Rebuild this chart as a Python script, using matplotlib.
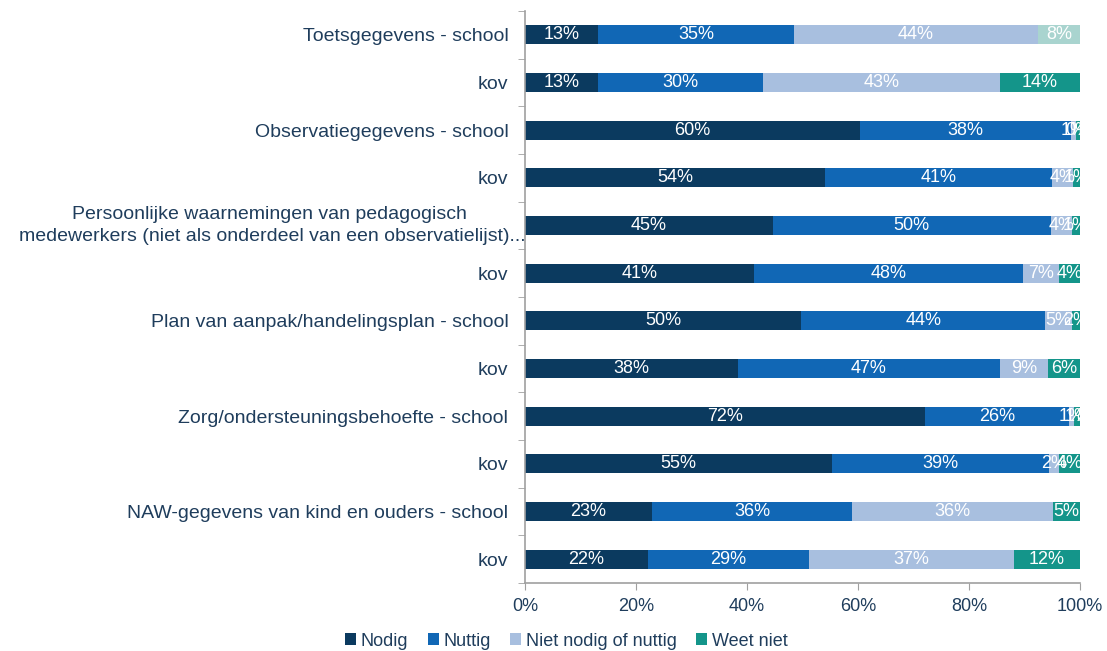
import matplotlib
matplotlib.use("Agg")
import matplotlib.pyplot as plt
from matplotlib.patches import Patch
import matplotlib.transforms as mtransforms
import numpy as np

plt.rcParams['font.family'] = ['Liberation Sans', 'DejaVu Sans']

categories = [
    "Toetsgegevens - school",
    "kov",
    "Observatiegegevens - school",
    "kov",
    "Persoonlijke waarnemingen van pedagogisch \nmedewerkers (niet als onderdeel van een observatielijst)...",
    "kov",
    "Plan van aanpak/handelingsplan - school",
    "kov",
    "Zorg/ondersteuningsbehoefte - school",
    "kov",
    "NAW-gegevens van kind en ouders - school",
    "kov",
]
series_names = ["Nodig", "Nuttig", "Niet nodig of nuttig", "Weet niet"]
nodig = [13.2, 13.2, 60.4, 54.1, 44.6, 41.3, 49.8, 38.3, 72.1, 55.3, 22.9, 22.2]
nuttig = [35.2, 29.7, 37.9, 40.8, 50.1, 48.4, 43.9, 47.3, 25.9, 39.2, 36.0, 29.0]
niet = [44.0, 42.7, 1.0, 3.8, 3.8, 6.6, 4.9, 8.7, 1.0, 1.8, 36.2, 36.9]
weet = [7.6, 14.4, 0.7, 1.3, 1.5, 3.7, 1.4, 5.7, 1.0, 3.7, 4.9, 11.9]
labels = [
    ["13%", "35%", "44%", "8%"],
    ["13%", "30%", "43%", "14%"],
    ["60%", "38%", "1%", "0%"],
    ["54%", "41%", "4%", "1%"],
    ["45%", "50%", "4%", "1%"],
    ["41%", "48%", "7%", "4%"],
    ["50%", "44%", "5%", "2%"],
    ["38%", "47%", "9%", "6%"],
    ["72%", "26%", "1%", "1%"],
    ["55%", "39%", "2%", "4%"],
    ["23%", "36%", "36%", "5%"],
    ["22%", "29%", "37%", "12%"],
]
xticks = [0, 20, 40, 60, 80, 100]
xticklabels = ["0%", "20%", "40%", "60%", "80%", "100%"]

colors = ["#0b3a5f", "#1167b5", "#a8bfdf", "#14958a"]
text_color = "#1f3d5c"

fig = plt.figure(figsize=(11.07, 6.51), dpi=100)
ax = fig.add_axes([525/1107, 1 - 583/651, 555/1107, (583-11)/651])

data = [nodig, nuttig, niet, weet]
y = np.arange(len(categories))
left = np.zeros(len(categories))
for si, vals in enumerate(data):
    vals = np.array(vals)
    cols = [colors[si]] * len(vals)
    if si == 3:
        cols[0] = "#a9d4cf"
    ax.barh(y, vals, left=left, height=0.4, color=cols, linewidth=0)
    for i, v in enumerate(vals):
        ax.text(left[i] + v / 2, y[i], labels[i][si], ha="center", va="center",
                color="white", fontsize=13)
    left = left + vals

ax.set_ylim(len(categories) - 0.5, -0.5)
ax.set_xlim(0, 100)
ax.set_yticks(y)
long_idx = 4
ax.set_yticklabels(["" if i == long_idx else c for i, c in enumerate(categories)],
                   fontsize=14, color=text_color)
for t in ax.get_yticklabels():
    t.set_ha("right")
# long two-line label, centred and overlapping the axis as in the original
trans = mtransforms.blended_transform_factory(fig.transFigure, ax.transData)
ax.text(272/1107, y[long_idx], categories[long_idx], transform=trans, ha="center", va="center",
        multialignment="center", fontsize=14, color=text_color, clip_on=False,
        linespacing=1.45)

ax.set_yticks(np.arange(-0.5, len(categories) + 0.5, 1), minor=True)
ax.tick_params(axis="y", which="major", length=0, pad=12)
ax.tick_params(axis="y", which="minor", length=5, color="#a0a0a0", direction="out")
ax.set_xticks(xticks)
ax.set_xticklabels(xticklabels, fontsize=13, color=text_color)
ax.tick_params(axis="x", length=5, color="#a0a0a0", direction="out", pad=6)
for s in ["top", "right"]:
    ax.spines[s].set_visible(False)
for s in ["left", "bottom"]:
    ax.spines[s].set_color("#a0a0a0")
    ax.spines[s].set_linewidth(1.2)

handles = [Patch(facecolor=c, edgecolor="none", label=n) for c, n in zip(colors, series_names)]
leg = fig.legend(handles=handles, loc="center left", bbox_to_anchor=(345/1107, 1 - 641/651), ncol=4,
                 frameon=False, fontsize=13, handlelength=0.6, handleheight=0.6,
                 handletextpad=0.25, columnspacing=1.1, borderaxespad=0, borderpad=0)
for t in leg.get_texts():
    t.set_color(text_color)

fig.savefig("out.png", dpi=100)
